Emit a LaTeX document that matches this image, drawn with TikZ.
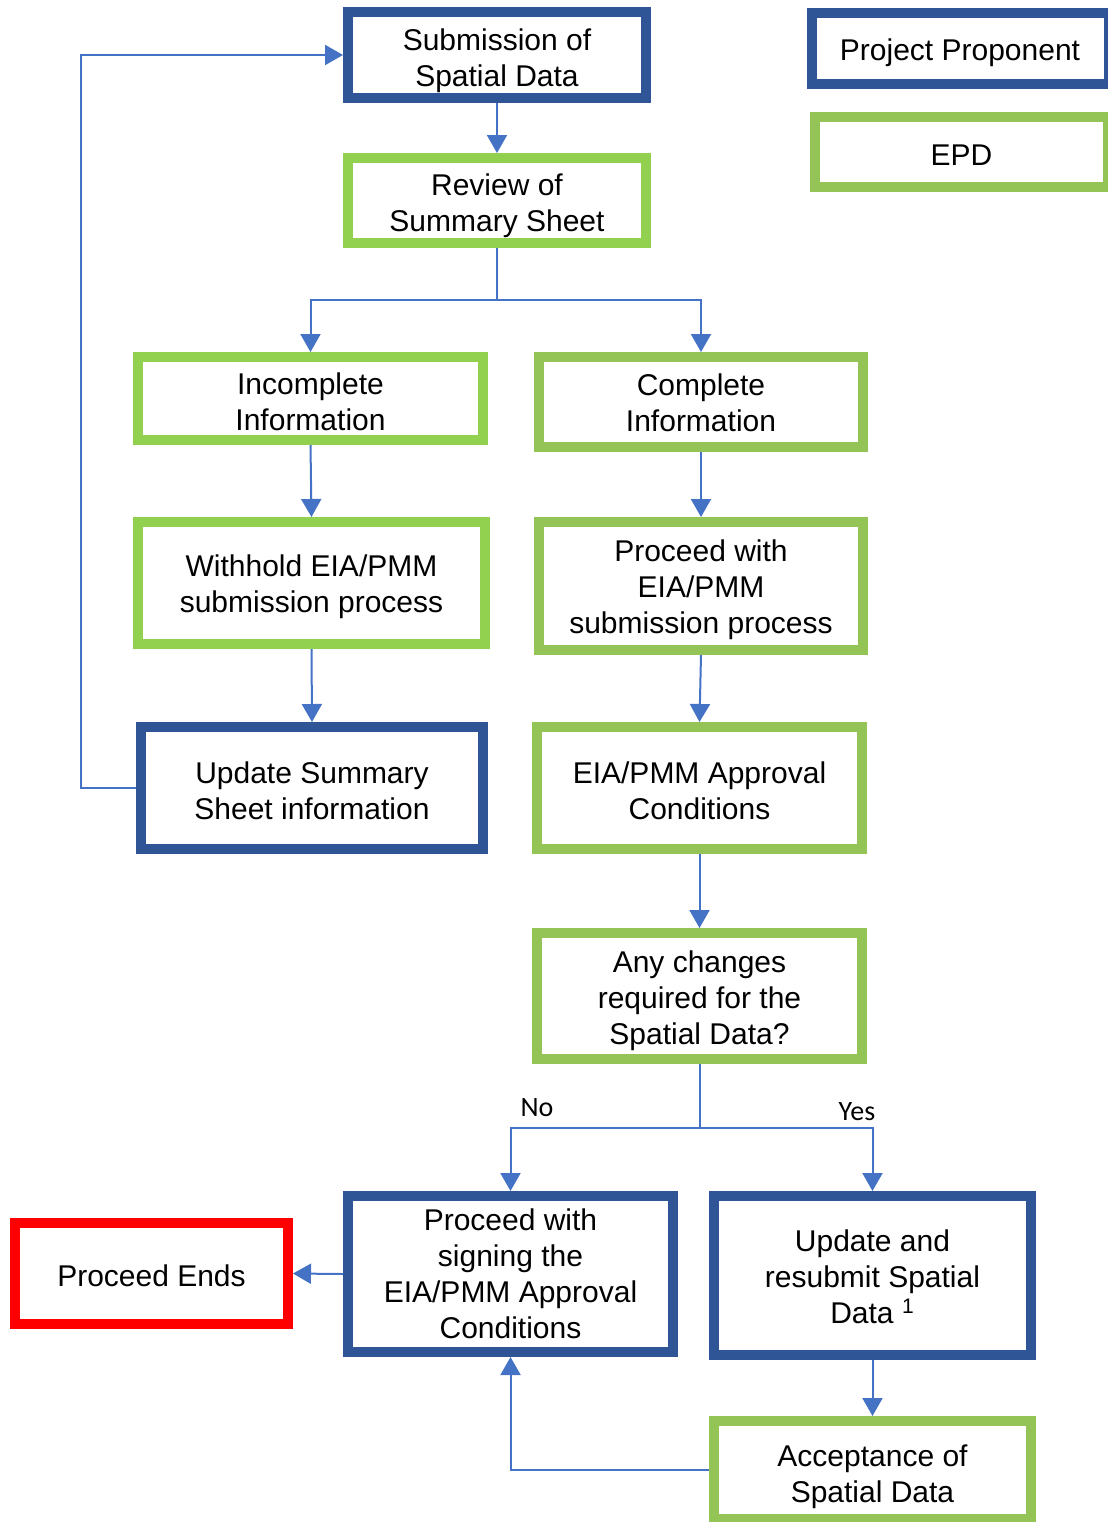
\documentclass[tikz,border=0pt]{standalone}
\usepackage{fontspec}
\setmainfont{Liberation Sans}
\newfontfamily\calib{Carlito}
\usetikzlibrary{arrows.meta}
\definecolor{pblue}{HTML}{2F5597}
\definecolor{gbright}{HTML}{92D050}
\definecolor{golive}{HTML}{94C356}
\definecolor{lblue}{HTML}{4472C4}
\definecolor{rred}{HTML}{FF0000}
\newcommand\bx[2][0pt]{\raisebox{-#1}[\height][\depth]{\begin{tabular}{@{}c@{}}#2\end{tabular}}}
\tikzset{
  box/.style={draw, line width=5pt, rectangle, align=center, fill=white,
    font=\fontsize{15pt}{18pt}\selectfont, inner sep=0pt},
  ppbox/.style={box, draw=pblue},
  gbbox/.style={box, draw=gbright},
  gobox/.style={box, draw=golive},
  endbox/.style={box, draw=rred},
  arr/.style={draw=lblue, line width=1pt, -{Triangle[width=10pt,length=9pt]}},
  ln/.style={draw=lblue, line width=1pt},
  lbl/.style={font=\calib\fontsize{14pt}{16pt}\selectfont, inner sep=0pt}
}
\begin{document}
\begin{tikzpicture}[x=0.5pt,y=-0.5pt]
\useasboundingbox (0,0) rectangle (1108,1522);
\node[ppbox, minimum width=149pt, minimum height=43pt] (sub) at (497,55) {\bx[3pt]{Submission of\\Spatial Data}};
\node[gbbox, minimum width=149pt, minimum height=42.5pt] (rev) at (497,200.5) {\bx[3pt]{Review of\\Summary Sheet}};
\node[ppbox, minimum width=148.5pt, minimum height=35.5pt] (pp) at (960,48.5) {\bx[2.5pt]{Project Proponent}};
\node[gobox, minimum width=146.5pt, minimum height=35pt] (epd) at (961.5,152) {\bx[3pt]{EPD}};
\node[gbbox, minimum width=172.5pt, minimum height=41.5pt] (inc) at (310.5,398.5) {\bx[3.5pt]{Incomplete\\Information}};
\node[gobox, minimum width=162pt, minimum height=45pt] (comp) at (701,402) {\bx[2pt]{Complete\\Information}};
\node[gbbox, minimum width=173.5pt, minimum height=61pt] (with) at (311.5,583) {\bx[2pt]{Withhold EIA/PMM\\submission process}};
\node[gobox, minimum width=162pt, minimum height=64pt] (proc) at (701,586) {\bx[2pt]{Proceed with\\EIA/PMM\\submission process}};
\node[ppbox, minimum width=171pt, minimum height=61pt] (upd) at (312,788) {\bx[3pt]{Update Summary\\Sheet information}};
\node[gobox, minimum width=162.5pt, minimum height=61pt] (appr) at (699.5,788) {\bx[3pt]{EIA/PMM Approval\\Conditions}};
\node[gobox, minimum width=162.5pt, minimum height=63pt] (any) at (699.5,996) {\bx[2.5pt]{Any changes\\required for the\\Spatial Data?}};
\node[endbox, minimum width=136.5pt, minimum height=50.5pt] (ends) at (151.5,1273.5) {\bx[3pt]{Proceed Ends}};
\node[ppbox, minimum width=162.5pt, minimum height=78pt] (sig) at (510.5,1274) {\bx[1.5pt]{Proceed with\\signing the\\EIA/PMM Approval\\Conditions}};
\node[ppbox, minimum width=158.5pt, minimum height=79.5pt] (res) at (872.5,1275.5) {\bx[2.5pt]{Update and\\resubmit Spatial\\Data \textsuperscript{1}}};
\node[gobox, minimum width=158.5pt, minimum height=49pt] (acc) at (872.5,1470) {\bx[3.5pt]{Acceptance of\\Spatial Data}};

\coordinate (s1) at (498,300);
\coordinate (s2) at (702,1128);
\coordinate (lp) at (81,0);

\draw[arr] (sub.south) -- (rev.north);
\draw[ln] (rev.south) -- (rev.south |- s1);
\draw[arr] (rev.south |- s1) -| (inc.north);
\draw[arr] (rev.south |- s1) -| (comp.north);
\draw[arr] (inc.south) -- (with.north);
\draw[arr] (comp.south) -- (proc.north);
\draw[arr] (with.south) -- (upd.north);
\draw[arr] (proc.south) -- (appr.north);
\draw[arr] (appr.south) -- (any.north);
\draw[arr] (upd.west) -- (upd.west -| lp) |- (sub.west);
\draw[ln] (any.south) -- (any.south |- s2);
\draw[arr] (any.south |- s2) -| (sig.north);
\draw[arr] (any.south |- s2) -| (res.north);
\draw[arr] (sig.west) -- (ends.east);
\draw[arr] (res.south) -- (acc.north);
\draw[arr] (acc.west) -| (sig.south);

\node[lbl] (no) at (537,1108) {No};
\node[lbl] (yes) at (857,1112) {Yes};
\end{tikzpicture}
\end{document}
